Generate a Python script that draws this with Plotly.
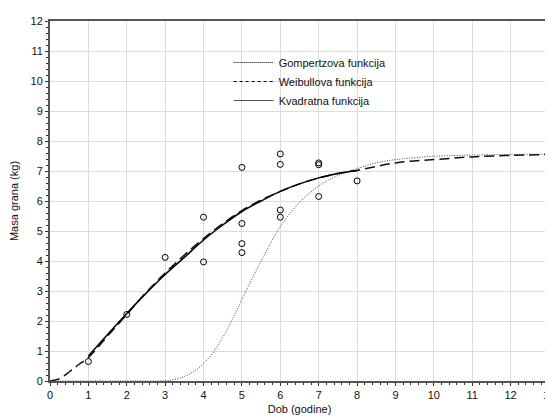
import plotly.graph_objects as go

# observed data points
obs_x = [1, 2, 3, 4, 4, 5, 5, 5, 5, 6, 6, 6, 6, 7, 7, 7, 8]
obs_y = [0.65, 2.22, 4.12, 5.46, 3.97, 7.12, 5.25, 4.58, 4.28, 7.57, 7.22, 5.70, 5.46, 7.27, 7.21, 6.15, 6.67]

# Gompertz curve
gomp_x = [0, 1, 2, 3, 3.25, 3.5, 3.75, 4, 4.25, 4.5, 4.75, 5, 5.25, 5.5, 5.75, 6, 6.5, 7, 7.5, 8, 8.5, 9, 10, 11, 12, 13]
gomp_y = [0, 0, 0, 0.01, 0.05, 0.15, 0.32, 0.58, 0.95, 1.45, 2.05, 2.72, 3.38, 4.0, 4.6, 5.15, 5.95, 6.5, 6.85, 7.08, 7.27, 7.38, 7.49, 7.53, 7.55, 7.56]

# Weibull curve
weib_x = [0, 0.25, 0.5, 0.75, 1, 1.5, 2, 2.5, 3, 3.5, 4, 4.5, 5, 5.5, 6, 6.5, 7, 7.5, 8, 9, 10, 11, 12, 13]
weib_y = [0, 0.08, 0.3, 0.55, 0.78, 1.5, 2.22, 2.95, 3.6, 4.2, 4.75, 5.25, 5.68, 6.03, 6.32, 6.57, 6.77, 6.92, 7.02, 7.27, 7.38, 7.47, 7.52, 7.55]

# Quadratic curve
quad_x = [1, 1.5, 2, 2.5, 3, 3.5, 4, 4.5, 5, 5.5, 6, 6.5, 7, 7.5, 8]
quad_y = [0.83, 1.55, 2.25, 2.92, 3.55, 4.12, 4.7, 5.2, 5.65, 6.0, 6.32, 6.57, 6.77, 6.92, 7.02]

legend_names = ["Gompertzova funkcija", "Weibullova funkcija", "Kvadratna funkcija"]
x_ticks = list(range(0, 14))
y_ticks = list(range(0, 13))

FONT = "Liberation Sans, Arial"

fig = go.Figure()
fig.add_trace(go.Scatter(x=gomp_x, y=gomp_y, mode="lines", line_shape="spline",
                         line=dict(color="#444444", width=1, dash="1px,1.5px"), showlegend=False))
fig.add_trace(go.Scatter(x=weib_x, y=weib_y, mode="lines", line_shape="spline",
                         line=dict(color="#111111", width=1.5, dash="10px,5px"), showlegend=False))
fig.add_trace(go.Scatter(x=quad_x, y=quad_y, mode="lines", line_shape="spline",
                         line=dict(color="#000000", width=1.5), showlegend=False))
fig.add_trace(go.Scatter(x=obs_x, y=obs_y, mode="markers",
                         marker=dict(symbol="circle-open", size=6, color="black", line=dict(width=1)),
                         showlegend=False))

# legend-only entries
fig.add_trace(go.Scatter(x=[None], y=[None], mode="lines", name=legend_names[0],
                         line=dict(color="#000000", width=1, dash="1px,1px")))
fig.add_trace(go.Scatter(x=[None], y=[None], mode="lines", name=legend_names[1],
                         line=dict(color="#000000", width=1, dash="3px,3px")))
fig.add_trace(go.Scatter(x=[None], y=[None], mode="lines", name=legend_names[2],
                         line=dict(color="#555555", width=1)))

axis_common = dict(
    automargin=False,
    showgrid=True, gridcolor="#dcdcdc", gridwidth=1.2,
    showline=True, linecolor="#555555", linewidth=2, mirror=True,
    ticks="outside", ticklen=3, tickcolor="#333333",
    zeroline=False, ticklabeloverflow="allow",
    tickfont=dict(family=FONT, size=11, color="#111111"),
)

fig.update_xaxes(range=[0, 13], tickmode="array", tickvals=x_ticks,
                 minor=dict(dtick=0.2, ticks="outside", ticklen=2, tickcolor="#333333", showgrid=False),
                 title=dict(text="Dob (godine)", font=dict(family=FONT, size=11, color="#111111"), standoff=5),
                 **axis_common)
fig.update_yaxes(range=[0, 12], tickmode="array", tickvals=y_ticks,
                 minor=dict(dtick=0.2, ticks="outside", ticklen=2, tickcolor="#333333", showgrid=False),
                 title=dict(text="Masa grana (kg)", font=dict(family=FONT, size=11, color="#111111"), standoff=14),
                 **axis_common)

# page body has an 8px margin, so the figure is sized to fit inside the window
fig.update_layout(
    width=545, height=411,
    margin=dict(l=42, r=3.5, t=12.7, b=38.3, autoexpand=False),
    plot_bgcolor="white", paper_bgcolor="white",
    font=dict(family=FONT, size=11, color="#111111"),
    legend=dict(x=0.358, y=0.925, xanchor="left", yanchor="top",
                bgcolor="rgba(255,255,255,0)", borderwidth=0,
                font=dict(size=11), tracegroupgap=0, itemwidth=40),
)

fig.write_html("out.html")
